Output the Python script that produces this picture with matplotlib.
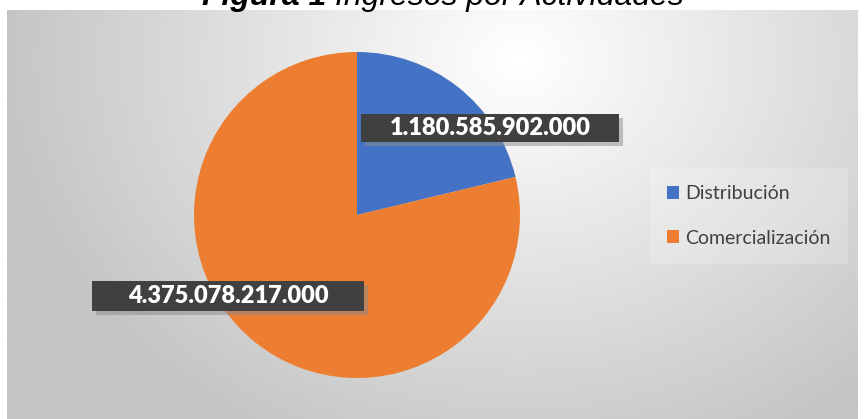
import numpy as np
import matplotlib.pyplot as plt
import matplotlib.patheffects as pe
from matplotlib.patches import Rectangle

# datos
actividades = ['Distribución', 'Comercialización']
ingresos = [1180585902000, 4375078217000]
etiquetas = ['1.180.585.902.000', '4.375.078.217.000']
colores = ['#4472C4', '#ED7D31']

W, H = 865, 419
fig = plt.figure(figsize=(W / 100, H / 100), dpi=100)
fig.patch.set_facecolor('white')

# fondo del area del grafico con degradado radial
top = 10
bg = fig.add_axes([7 / W, 0, (858 - 7) / W, (419 - top) / H])
xx, yy = np.meshgrid(np.linspace(7, 858, 400), np.linspace(top, 419, 200))
d = np.hypot((xx - 520) / 520, (yy - 60) / 430)
g = np.clip(1.0 - 0.23 * d, 0.77, 1.0)
bg.imshow(g, cmap='gray', vmin=0, vmax=1, aspect='auto', extent=[0, 1, 0, 1], origin='upper')
bg.set_xlim(0, 1)
bg.set_ylim(0, 1)
bg.axis('off')

# titulo (cortado en la parte superior, como en la imagen original)
t1 = fig.text(202 / W, 1 - 5 / H, 'Figura 1 ', fontsize=23, fontweight='bold', style='italic',
              family='Liberation Sans', va='baseline', ha='left')
fig.canvas.draw()
ext = t1.get_window_extent()
fig.text(ext.x1 / W, 1 - 5 / H, 'Ingresos por Actividades', fontsize=23, style='italic',
         family='Liberation Sans', va='baseline', ha='left')

# pastel
cx, cy, r = 357, 215, 163
ax = fig.add_axes([(cx - r) / W, (H - cy - r) / H, 2 * r / W, 2 * r / H])
ax.pie(ingresos, colors=colores, startangle=90, counterclock=False, radius=1,
       wedgeprops=dict(edgecolor='none'))
ax.set_xlim(-1, 1)
ax.set_ylim(-1, 1)
ax.set_aspect('equal')

# etiquetas de datos con caja oscura
cajas = [(361, 619, 114, 142), (92, 364, 281, 311)]
for (x0, x1, y0, y1), txt in zip(cajas, etiquetas):
    rx0 = (x0 - cx) / r
    rx1 = (x1 - cx) / r
    ry0 = (cy - y1) / r
    ry1 = (cy - y0) / r
    rect = Rectangle((rx0, ry0), rx1 - rx0, ry1 - ry0, facecolor='#404040', edgecolor='none',
                     clip_on=False, zorder=5)
    rect.set_path_effects([pe.SimplePatchShadow(offset=(3, -3), shadow_rgbFace='#8a8a8a', alpha=0.5),
                           pe.Normal()])
    ax.add_patch(rect)
    ax.text((rx0 + rx1) / 2, (ry0 + ry1) / 2, txt, color='white', fontsize=17, fontweight='heavy',
            family='Lato', ha='center', va='center', zorder=6)

# leyenda
handles = [Rectangle((0, 0), 1, 1, facecolor=c) for c in colores]
leg = fig.legend(handles, actividades, loc='center left', bbox_to_anchor=(640 / W, (H - 216) / H),
                 frameon=True, prop={'family': 'Lato', 'size': 14},
                 handlelength=0.62, handleheight=0.62, handletextpad=0.3, labelspacing=1.4,
                 borderpad=0.9)
leg.get_frame().set_facecolor('white')
leg.get_frame().set_alpha(0.2)
leg.get_frame().set_edgecolor('none')
for t in leg.get_texts():
    t.set_color('#404040')

fig.savefig('out.png', dpi=100)
